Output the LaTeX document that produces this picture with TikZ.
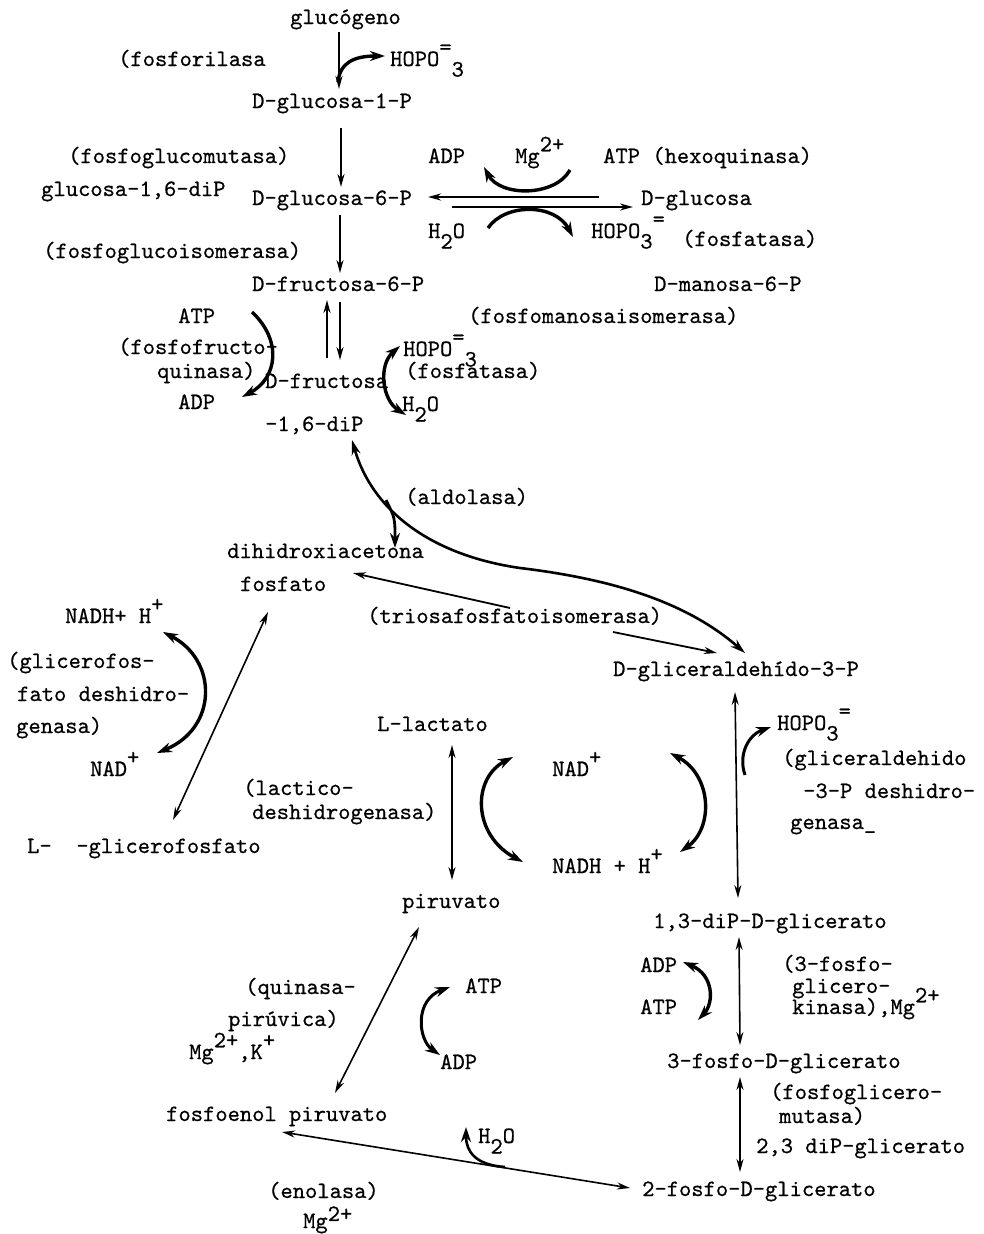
\documentclass[tikz,border=0pt]{standalone}
\usepackage{fontspec}
\usetikzlibrary{arrows.meta}
% typewriter face, slightly emboldened
\newfontfamily\tw{lmmono10-regular.otf}[FakeBold=0.6]
% raised and lowered characters of the same size (typewriter style)
\newcommand\up[1]{\raisebox{0.5em}{#1}}
\newcommand\dn[1]{\raisebox{-0.45em}{#1}}
\begin{document}
\begin{tikzpicture}[x=1pt,y=-1pt,
  lbl/.style={anchor=base west, inner sep=0pt, yshift=-6pt,
    font=\tw\fontsize{23.4}{28}\selectfont},
  fwd/.style={line width=1.8pt, -{Stealth[length=13pt,width=7pt]}},
  rev/.style={line width=1.6pt, {Stealth[length=13pt,width=7pt]}-{Stealth[length=13pt,width=7pt]}},
  side/.style={line width=3.4pt, -{Stealth[length=15pt,width=10pt]}},
  sideboth/.style={line width=3.4pt, {Stealth[length=15pt,width=10pt]}-{Stealth[length=15pt,width=10pt]}},
]
\useasboundingbox (0,0) rectangle (984,1234);
\fill[white] (0,0) rectangle (984,1234);

% ---------- metabolites, cofactors and enzymes ----------
\node[lbl] (glg) at (290,18) {glucógeno};
\node[lbl] (fosforilasa) at (118,60) {(fosforilasa};
\node[lbl] (pi1) at (390,60) {HOPO\up{=}\dn{3}};
\node[lbl] (g1p) at (252,102) {D-glucosa-1-P};
\node[lbl] (pgm) at (68,157) {(fosfoglucomutasa)};
\node[lbl] (g16) at (41,190) {glucosa-1,6-diP};
\node[lbl] (g6p) at (252,199) {D-glucosa-6-P};
\node[lbl] (adp1) at (428,157) {ADP};
\node[lbl] (mg1) at (515,157) {Mg\up{2+}};
\node[lbl] (hk) at (603,157) {ATP (hexoquinasa)};
\node[lbl] (glc) at (641,199) {D-glucosa};
\node[lbl] (h2o1) at (428,232) {H\dn{2}O};
\node[lbl] (pi2) at (591,232) {HOPO\dn{3}\up{=}};
\node[lbl] (fosfatasa1) at (682,240) {(fosfatasa)};
\node[lbl] (pgi) at (43,252) {(fosfoglucoisomerasa)};
\node[lbl] (f6p) at (252,285) {D-fructosa-6-P};
\node[lbl] (m6p) at (654,285) {D-manosa-6-P};
\node[lbl] (pmi) at (468,317) {(fosfomanosaisomerasa)};
\node[lbl] (atp2) at (178,317) {ATP};
\node[lbl] (pfk1) at (118,348) {(fosfofructo-};
\node[lbl] (pfk2) at (157,372) {quinasa)};
\node[lbl] (f16a) at (265,382) {D-fructosa};
\node[lbl] (adp2) at (178,403) {ADP};
\node[lbl] (pi3) at (403,350) {HOPO\up{=}\dn{3}};
\node[lbl] (fosfatasa2) at (405,372) {(fosfatasa)};
\node[lbl] (h2o2) at (402,405) {H\dn{2}O};
\node[lbl] (f16b) at (265,425) {-1,6-diP};
\node[lbl] (aldolasa) at (405,498) {(aldolasa)};
\node[lbl] (dhap1) at (227,552) {dihidroxiacetona};
\node[lbl] (dhap2) at (240,585) {fosfato};
\node[lbl] (nadh1) at (65,617) {NADH+ H\up{+}};
\node[lbl] (tpi) at (367,617) {(triosafosfatoisomerasa)};
\node[lbl] (gpd1) at (7,662) {(glicerofos-};
\node[lbl] (g3p) at (613,670) {D-gliceraldeh\'{\i}do-3-P};
\node[lbl] (gpd2) at (17,695) {fato deshidro-};
\node[lbl] (lac) at (377,725) {L-lactato};
\node[lbl] (gpd3) at (16,727) {genasa)};
\node[lbl] (pi4) at (777,724) {HOPO\dn{3}\up{=}};
\node[lbl] (gapdh1) at (782,759) {(gliceraldehido};
\node[lbl] (nad1) at (90,770) {NAD\up{+}};
\node[lbl] (nad2) at (552,770) {NAD\up{+}};
\node[lbl] (ldh1) at (243,789) {(lactico-};
\node[lbl] (gapdh2) at (803,792) {-3-P deshidro-};
\node[lbl] (ldh2) at (252,813) {deshidrogenasa)};
\node[lbl] (gapdh3) at (790,823) {genasa\_};
\node[lbl] (glyp) at (27,847) {L-\ \ -glicerofosfato};
\node[lbl] (nadh2) at (552,867) {NADH + H\up{+}};
\node[lbl] (pyr) at (402,902) {piruvato};
\node[lbl] (bpg) at (653,922) {1,3-diP-D-glicerato};
\node[lbl] (adp3) at (640,966) {ADP};
\node[lbl] (pgk1) at (782,965) {(3-fosfo-};
\node[lbl] (pgk2) at (792,987) {glicero-};
\node[lbl] (pk1) at (245,988) {(quinasa-};
\node[lbl] (atp4) at (465,987) {ATP};
\node[lbl] (pgk3) at (792,1008) {kinasa),Mg\up{2+}};
\node[lbl] (atp3) at (640,1008) {ATP};
\node[lbl] (pk2) at (228,1020) {pir\'uvica)};
\node[lbl] (pk3) at (189,1053) {Mg\up{2+},K\up{+}};
\node[lbl] (adp4) at (440,1063) {ADP};
\node[lbl] (pg3) at (667,1062) {3-fosfo-D-glicerato};
\node[lbl] (pgam1) at (770,1093) {(fosfoglicero-};
\node[lbl] (pep) at (166,1115) {fosfoenol piruvato};
\node[lbl] (pgam2) at (779,1117) {mutasa)};
\node[lbl] (h2o3) at (478,1137) {H\dn{2}O};
\node[lbl] (bpg23) at (756,1147) {2,3 diP-glicerato};
\node[lbl] (eno) at (268,1192) {(enolasa)};
\node[lbl] (pg2) at (642,1190) {2-fosfo-D-glicerato};
\node[lbl] (mg3) at (303,1222) {Mg\raisebox{0.3em}{2+}};

% ---------- connector end points ----------
\coordinate (glgS) at (339,32);   \coordinate (g1pN) at (339,89);
\coordinate (g1pS) at (341,128);  \coordinate (g6pN) at (341,187);
\coordinate (g6pS) at (340,215);  \coordinate (f6pN) at (340,273);
\coordinate (g6pE) at (428,197);  \coordinate (glcW1) at (599,197);
\coordinate (g6pE2) at (452,207); \coordinate (glcW) at (633,207);
\coordinate (f6pS1) at (327,300); \coordinate (f16N1) at (327,358);
\coordinate (f6pS2) at (340,302); \coordinate (f16N2) at (340,360);
\coordinate (f16S) at (352,440);  \coordinate (g3pN1) at (745,653);
\coordinate (mid) at (520,568);
\coordinate (fork) at (386,500);  \coordinate (dhapN) at (395,548);
\coordinate (tpiA) at (510,608);  \coordinate (dhapE) at (353,573);
\coordinate (tpiB) at (613,632);  \coordinate (g3pN2) at (717,653);
\coordinate (g3pS) at (735,692);  \coordinate (bpgN) at (738,898);
\coordinate (dhapS) at (268,612); \coordinate (glypN) at (173,820);
\coordinate (lacS) at (452,745);  \coordinate (pyrN) at (452,880);
\coordinate (pyrS) at (419,927);  \coordinate (pepN) at (335,1093);
\coordinate (bpgS) at (739,937);  \coordinate (pg3N) at (740,1045);
\coordinate (pg3S) at (740,1077); \coordinate (pg2N) at (740,1172);
\coordinate (pepE) at (282,1132); \coordinate (pg2W) at (630,1188);

% ---------- main pathway ----------
\draw[fwd, line width=2pt] (glgS) -- (g1pN);
\draw[fwd] (g1pS) -- (g6pN);
\draw[fwd] (g6pS) -- (f6pN);
\draw[fwd, line width=2.2pt] (glcW1) -- (g6pE);
\draw[fwd] (g6pE2) -- (glcW);
\draw[fwd] (f16N1) -- (f6pS1);
\draw[fwd] (f6pS2) -- (f16N2);
\draw[line width=2.6pt, {Stealth[length=15pt,width=9pt]}-{Stealth[length=15pt,width=9pt]}]
  (f16S) .. controls (372,510) and (430,555) .. (mid)
         .. controls (620,580) and (690,605) .. (g3pN1);
\draw[side, line width=2.8pt] (fork) .. controls (395,518) .. (dhapN);
\draw[fwd] (tpiA) -- (dhapE);
\draw[fwd] (tpiB) -- (g3pN2);
\draw[rev] (g3pS) -- (bpgN);
\draw[rev] (dhapS) -- (glypN);
\draw[rev] (lacS) -- (pyrN);
\draw[rev] (pyrS) -- (pepN);
\draw[rev] (bpgS) -- (pg3N);
\draw[rev] (pg3S) -- (pg2N);
\draw[rev] (pg2W) -- (pepE);

% ---------- cofactor arcs ----------
\coordinate (c1a) at (338,82);  \coordinate (c1b) at (385,56);
\draw[side] (c1a) .. controls (340,62) and (355,56) .. (c1b);
\coordinate (c2a) at (570,170); \coordinate (c2b) at (484,167);
\draw[side] (c2a) .. controls (555,197) and (500,197) .. (c2b);
\coordinate (c3a) at (488,228); \coordinate (c3b) at (573,237);
\draw[side] (c3a) .. controls (505,203) and (555,203) .. (c3b);
\coordinate (c4a) at (252,312); \coordinate (c4b) at (242,397);
\draw[side] (c4a) .. controls (282,340) and (278,378) .. (c4b);
\coordinate (c5a) at (400,346); \coordinate (c5b) at (406,415);
\draw[sideboth] (c5a) .. controls (378,365) and (382,400) .. (c5b);
\coordinate (c6a) at (163,632); \coordinate (c6b) at (157,753);
\draw[sideboth] (c6a) .. controls (218,660) and (218,728) .. (c6b);
\coordinate (c7a) at (513,757); \coordinate (c7b) at (523,862);
\draw[sideboth] (c7a) .. controls (472,778) and (472,835) .. (c7b);
\coordinate (c8a) at (670,753); \coordinate (c8b) at (680,852);
\draw[sideboth] (c8a) .. controls (712,775) and (714,828) .. (c8b);
\coordinate (c9a) at (745,775); \coordinate (c9b) at (771,727);
\draw[side, line width=3pt] (c9a) .. controls (738,755) and (748,735) .. (c9b);
\coordinate (c10a) at (683,962); \coordinate (c10b) at (698,1020);
\draw[sideboth] (c10a) .. controls (714,975) and (714,1003) .. (c10b);
\coordinate (c11a) at (450,987); \coordinate (c11b) at (440,1055);
\draw[sideboth, line width=3pt] (c11a) .. controls (414,1000) and (418,1040) .. (c11b);
\coordinate (c12a) at (505,1167); \coordinate (c12b) at (466,1127);
\draw[side, line width=2.6pt] (c12a) .. controls (476,1165) and (466,1152) .. (c12b);
\end{tikzpicture}
\end{document}
